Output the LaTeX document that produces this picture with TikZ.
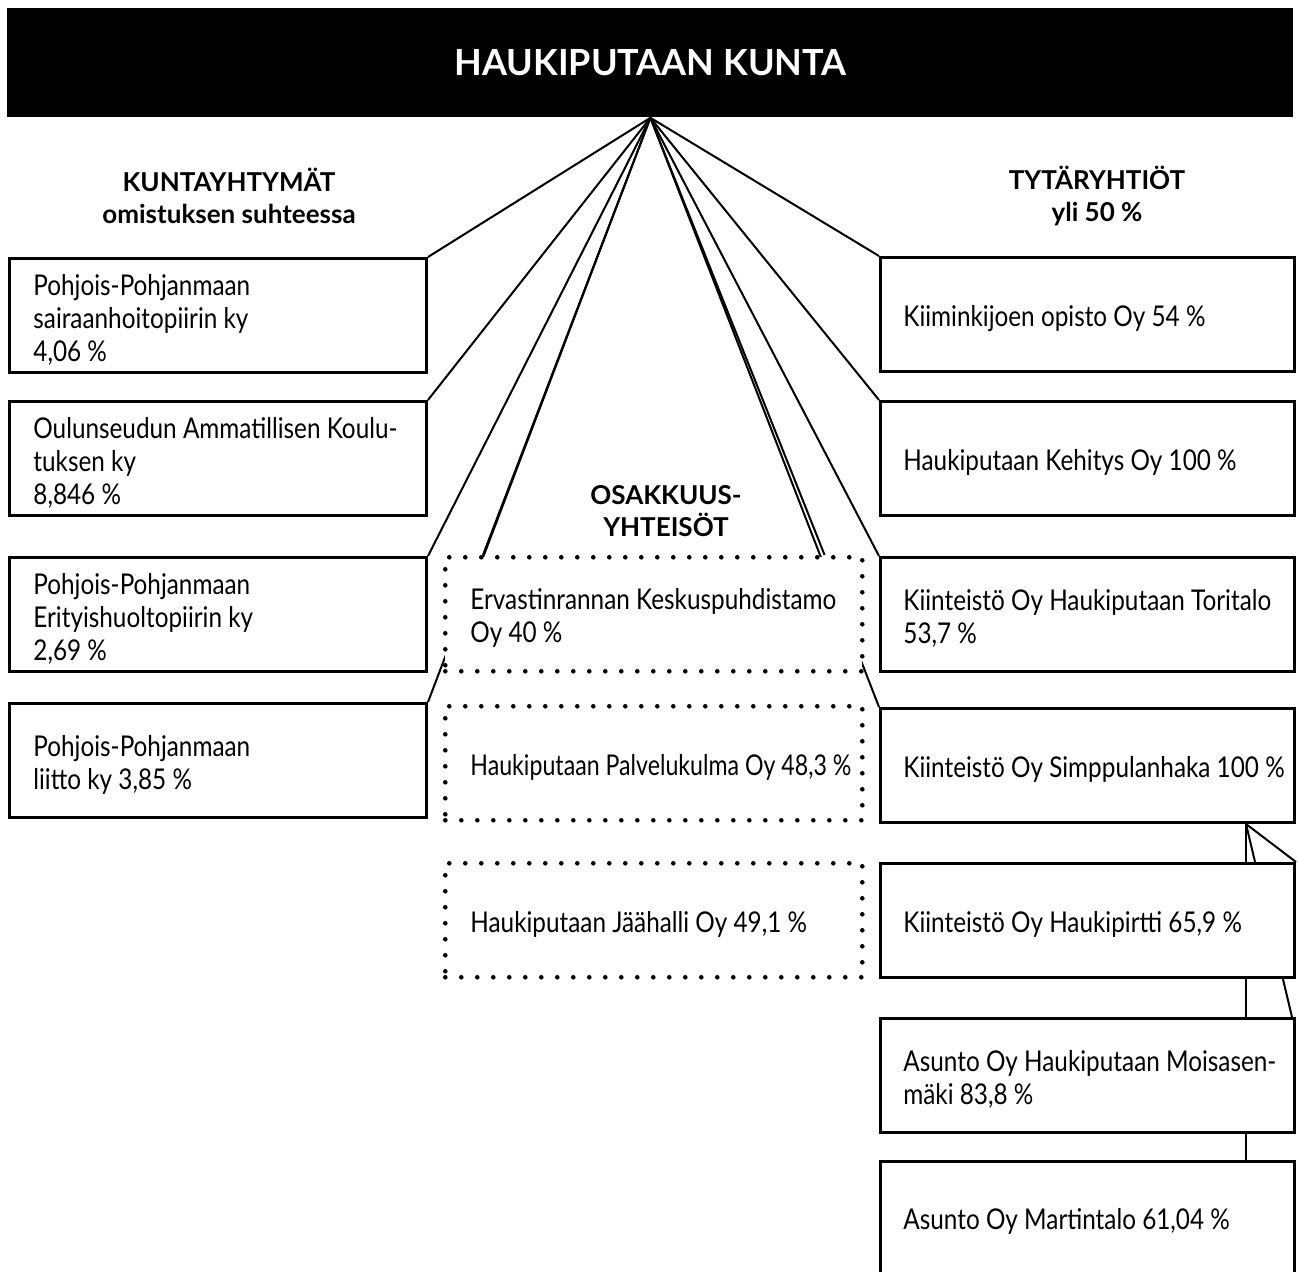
\documentclass[tikz,border=0pt]{standalone}
\usepackage{fontspec}
\setmainfont{Lato}
\usetikzlibrary{calc,backgrounds}
\newfontfamily\boxfamily[FakeStretch=0.85]{Lato}
\newfontfamily\boxnarrow[FakeStretch=0.81]{Lato}
\begin{document}
\begin{tikzpicture}[x=0.5pt,y=-0.5pt,
  basebox/.style={anchor=north west, fill=white, inner sep=0pt},
  solidbox/.style={basebox, draw, line width=1.5pt},
  dotbox/.style={basebox, draw, line width=2.3pt, dash pattern=on 0pt off 8pt, line cap=round},
  lwide/.style={minimum width=208.5pt, minimum height=57pt},
  rwide/.style={minimum width=207pt, minimum height=57pt},
  boxtext/.style={anchor=west, align=left, inner sep=0pt,
    font=\boxfamily\fontsize{14.3}{16.5}\selectfont},
  narrowtext/.style={boxtext, font=\boxnarrow\fontsize{14.3}{16.5}\selectfont},
  conn/.style={line width=1pt},
  head/.style={align=center, font=\bfseries\fontsize{13}{16}\selectfont}]
\useasboundingbox (0,0) rectangle (1298,1272);
\node[anchor=north west, fill=black, minimum width=643pt, minimum height=54.5pt, inner sep=0pt,
  text=white, font=\bfseries\fontsize{18}{20}\selectfont] (top) at (7,8) {HAUKIPUTAAN KUNTA};

\node[head] (hl) at (229,196) {KUNTAYHTYMÄT\\omistuksen suhteessa};
\node[head] (hr) at (1097,196) {TYTÄRYHTIÖT\\yli 50 \%};
\node[head] (hm) at (666,511) {OSAKKUUS-\\YHTEISÖT};

\node[solidbox, lwide] (L1) at (8,257) {};
\node[solidbox, lwide] (L2) at (8,400) {};
\node[solidbox, lwide] (L3) at (8,556) {};
\node[solidbox, lwide] (L4) at (8,702) {};
\node[boxtext] (L1t) at ($(L1.west)+(25,4)$) {Pohjois-Pohjanmaan\\sairaanhoitopiirin ky\\4,06 \%};
\node[boxtext] (L2t) at ($(L2.west)+(25,4)$) {Oulunseudun Ammatillisen Koulu-\\tuksen ky\\8,846 \%};
\node[boxtext] (L3t) at ($(L3.west)+(25,4)$) {Pohjois-Pohjanmaan\\Erityishuoltopiirin ky\\2,69 \%};
\node[boxtext] (L4t) at ($(L4.west)+(25,4)$) {Pohjois-Pohjanmaan\\liitto ky 3,85 \%};

\node[dotbox, lwide] (D1) at (443,555) {};
\node[dotbox, lwide] (D2) at (443,704) {};
\node[dotbox, lwide] (D3) at (443,861) {};
\node[boxtext] (D1t) at ($(D1.west)+(27,4)$) {Ervastinrannan Keskuspuhdistamo\\Oy 40 \%};
\node[narrowtext] (D2t) at ($(D2.west)+(27,4)$) {Haukiputaan Palvelukulma Oy 48,3 \%};
\node[boxtext] (D3t) at ($(D3.west)+(27,4)$) {Haukiputaan Jäähalli Oy 49,1 \%};

\node[solidbox, rwide] (R1) at (879,256) {};
\node[solidbox, rwide] (R2) at (879,400) {};
\node[solidbox, rwide] (R3) at (879,556) {};
\node[solidbox, rwide] (R4) at (879,707) {};
\node[solidbox, rwide] (R5) at (879,862) {};
\node[solidbox, rwide] (R6) at (879,1017) {};
\node[solidbox, rwide, minimum height=62pt] (R7) at (879,1160) {};
\node[boxtext] (R1t) at ($(R1.west)+(24,4)$) {Kiiminkijoen opisto Oy 54 \%};
\node[boxtext] (R2t) at ($(R2.west)+(24,4)$) {Haukiputaan Kehitys Oy 100 \%};
\node[boxtext] (R3t) at ($(R3.west)+(24,4)$) {Kiinteistö Oy Haukiputaan Toritalo\\53,7 \%};
\node[boxtext] (R4t) at ($(R4.west)+(24,4)$) {Kiinteistö Oy Simppulanhaka 100 \%};
\node[boxtext] (R5t) at ($(R5.west)+(24,4)$) {Kiinteistö Oy Haukipirtti 65,9 \%};
\node[boxtext] (R6t) at ($(R6.west)+(24,4)$) {Asunto Oy Haukiputaan Moisasen-\\mäki 83,8 \%};
\node[boxtext] (R7t) at (903,1221) {Asunto Oy Martintalo 61,04 \%};

\coordinate (hub) at (top.south);
\coordinate (d1a) at ($(D1.north west)+(40,0)$);
\coordinate (d1b) at ($(D1.north east)+(-40,0)$);
\coordinate (r4s) at ($(R4.south east)+(-50,0)$);
\coordinate (r5n) at ($(R5.north east)+(-50,0)$);
\coordinate (r5s) at ($(R5.south east)+(-50,0)$);
\coordinate (r6n) at ($(R6.north east)+(-50,0)$);
\coordinate (r6c) at ($(R6.north east)+(-4,0)$);
\coordinate (r6s) at ($(R6.south east)+(-50,0)$);
\coordinate (r7n) at ($(R7.north east)+(-50,0)$);

\begin{scope}[on background layer]
\draw[conn] (hub) -- (L1.north east);
\draw[conn] (hub) -- (L2.north east);
\draw[conn] (hub) -- (L3.north east);
\draw[conn] (hub) -- (L4.north east);
\draw[conn] (hub) -- (d1a);
\draw[conn] (hub) -- (d1b);
\draw[conn] (hub) -- (R1.north west);
\draw[conn] (hub) -- (R2.north west);
\draw[conn] (hub) -- (R3.north west);
\draw[conn] (hub) -- (R4.north west);
\draw[conn] (r4s) -- (r5n);
\draw[conn] (r4s) -- (R5.north east);
\draw[conn] (r4s) -- (r6c);
\draw[conn] (r5s) -- (r6n);
\draw[conn] (r6s) -- (r7n);
\end{scope}
\end{tikzpicture}
\end{document}
